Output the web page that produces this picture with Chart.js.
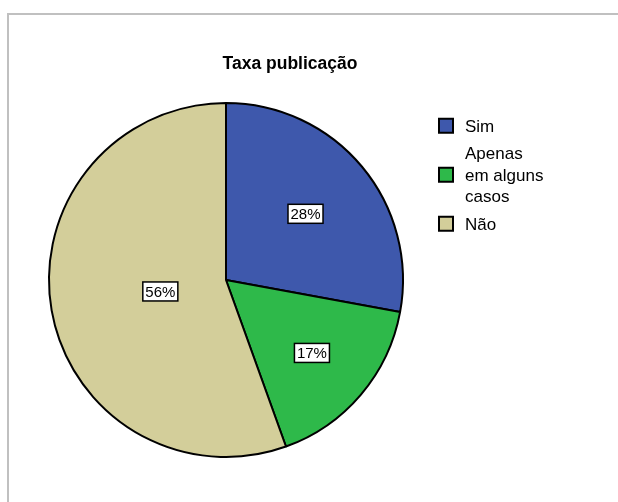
<!DOCTYPE html>
<html>
<head>
<meta charset="utf-8">
<script src="https://cdn.jsdelivr.net/npm/chart.js@4.4.1/dist/chart.umd.min.js"></script>
<style>
  html, body { margin: 0; padding: 0; background: #fff; }
  #wrap { position: relative; width: 618px; height: 502px; overflow: hidden; }
  #frame {
    position: absolute; left: 7px; top: 13px; width: 700px; height: 600px;
    border-left: 2px solid #c0c0c0; border-top: 2px solid #c0c0c0;
  }
  #pie { position: absolute; left: 0; top: 0; }
</style>
</head>
<body>
<div id="wrap">
  <div id="frame"></div>
  <canvas id="pie" width="618" height="502"></canvas>
</div>
<script>
const chartTitle = "Taxa publicação";
const categories = ["Sim", ["Apenas", "em alguns", "casos"], "Não"];
const shares = [27.9, 16.6, 55.5];
const sliceColors = ["#3e58ac", "#2eb94a", "#d3ce9a"];

// Boxed percentage labels at each slice's centroid
const sliceLabels = {
  id: "sliceLabels",
  afterDatasetsDraw(chart) {
    const { ctx } = chart;
    const meta = chart.getDatasetMeta(0);
    const total = shares.reduce((a, b) => a + b, 0);
    ctx.save();
    ctx.font = "15px 'Liberation Sans', Arial, sans-serif";
    ctx.textAlign = "center";
    ctx.textBaseline = "middle";
    meta.data.forEach((arc, i) => {
      const { x, y, startAngle, endAngle, outerRadius } = arc.getProps(
        ["x", "y", "startAngle", "endAngle", "outerRadius"], true);
      const span = endAngle - startAngle;
      const mid = startAngle + span / 2;
      const d = (4 * outerRadius * Math.sin(span / 2)) / (3 * span);
      const cx = x + Math.cos(mid) * d;
      const cy = y + Math.sin(mid) * d;
      const text = Math.round(shares[i] / total * 100) + "%";
      const w = ctx.measureText(text).width + 5;
      const h = 19;
      ctx.fillStyle = "#fff";
      ctx.fillRect(cx - w / 2, cy - h / 2, w, h);
      ctx.strokeStyle = "#000";
      ctx.lineWidth = 1.5;
      ctx.strokeRect(cx - w / 2, cy - h / 2, w, h);
      ctx.fillStyle = "#000";
      ctx.fillText(text, cx, cy + 1);
    });
    ctx.restore();
  }
};

// Title and wrapped legend, drawn by hand so the legend can take multi-line labels
const sideLegend = {
  id: "sideLegend",
  afterDraw(chart) {
    const { ctx } = chart;
    ctx.save();
    ctx.fillStyle = "#000";
    ctx.textAlign = "center";
    ctx.textBaseline = "alphabetic";
    ctx.font = "bold 17.5px 'Liberation Sans', Arial, sans-serif";
    ctx.fillText(chartTitle, 290, 69);

    ctx.font = "17px 'Liberation Sans', Arial, sans-serif";
    ctx.textAlign = "left";
    const lineH = 21.5, gap = 6, box = 14;
    let top = 115;
    chart.data.labels.forEach((label, i) => {
      const lines = Array.isArray(label) ? label : [label];
      const blockH = lines.length * lineH;
      const center = top + blockH / 2;
      ctx.fillStyle = sliceColors[i];
      ctx.fillRect(439, center - box / 2, box, box);
      ctx.strokeStyle = "#000";
      ctx.lineWidth = 2;
      ctx.strokeRect(439, center - box / 2, box, box);
      ctx.fillStyle = "#000";
      lines.forEach((ln, j) => {
        ctx.fillText(ln, 465, top + j * lineH + lineH / 2 + 6);
      });
      top += blockH + gap;
    });
    ctx.restore();
  }
};

new Chart(document.getElementById("pie").getContext("2d"), {
  type: "pie",
  data: {
    labels: categories,
    datasets: [{
      data: shares,
      backgroundColor: sliceColors,
      borderColor: "#000",
      borderWidth: 2
    }]
  },
  options: {
    responsive: false,
    animation: false,
    layout: { padding: { left: 48, right: 214, top: 102, bottom: 44 } },
    plugins: {
      legend: { display: false },
      title: { display: false },
      tooltip: { enabled: false }
    }
  },
  plugins: [sliceLabels, sideLegend]
});
</script>
</body>
</html>
